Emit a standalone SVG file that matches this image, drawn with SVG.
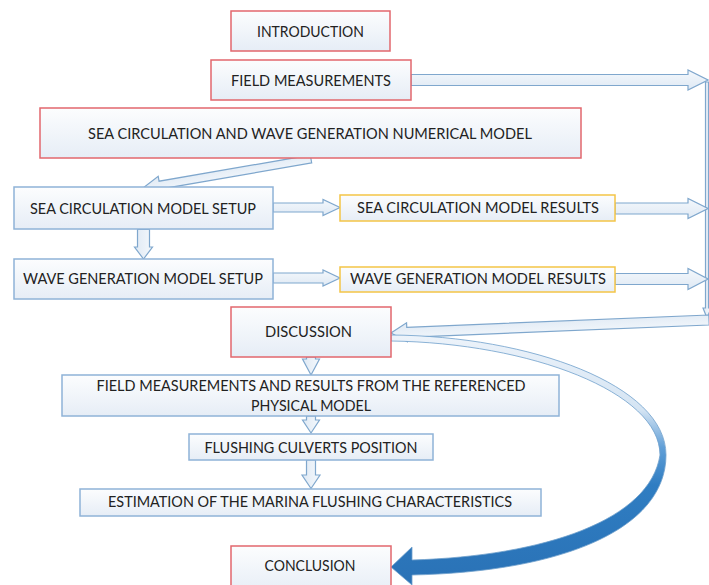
<svg xmlns="http://www.w3.org/2000/svg" width="709" height="585" viewBox="0 0 709 585">
<defs>
<linearGradient id="boxg" x1="0" y1="0" x2="0" y2="1">
<stop offset="0" stop-color="#fcfdfe"/>
<stop offset="1" stop-color="#e6edf6"/>
</linearGradient>
<linearGradient id="arrg" x1="0" y1="0" x2="0" y2="1">
<stop offset="0" stop-color="#f4f8fc"/>
<stop offset="1" stop-color="#dfe9f4"/>
</linearGradient>
<linearGradient id="curveg" gradientUnits="userSpaceOnUse" x1="0" y1="335" x2="0" y2="585">
<stop offset="0" stop-color="#edf3fa"/>
<stop offset="0.3" stop-color="#d4e4f3"/>
<stop offset="0.45" stop-color="#619fd7"/>
<stop offset="0.6" stop-color="#2f7dc2"/>
<stop offset="1" stop-color="#2a72b6"/>
</linearGradient>
<style>
.box{fill:url(#boxg);stroke-width:1.5}
.red{stroke:#e2676d}
.blue{stroke:#8fb3d7}
.gold{stroke:#f4c547}
.t{font-family:Lato,"Open Sans","Liberation Sans",sans-serif;font-size:15px;fill:#222222;text-anchor:middle}
.arr{fill:url(#arrg);stroke:#7fa7cd;stroke-width:1.2;stroke-linejoin:miter}
</style>
</defs>
<g id="connectors">
<path class="arr" transform="translate(411,80)" d="M0,-5.5 H277 V-10 L297,0 L277,10 V5.5 H0 Z"/>
<path class="arr" transform="translate(707,82) rotate(90)" d="M0,-1.5 H226 V-4 L236,0 L226,4 V1.5 H0 Z"/>
<path class="arr" transform="translate(311,159) rotate(170.2)" d="M0,-4 H153.5 V-9 L170.5,0 L153.5,9 V4 H0 Z"/>
<path class="arr" transform="translate(143.5,229.5) rotate(90)" d="M0,-6 H17.5 V-9 L29.5,0 L17.5,9 V6 H0 Z"/>
<path class="arr" transform="translate(273,207.5)" d="M0,-4.5 H50 V-8 L67,0 L50,8 V4.5 H0 Z"/>
<path class="arr" transform="translate(273,278)" d="M0,-5 H50 V-8 L67,0 L50,8 V5 H0 Z"/>
<path class="arr" transform="translate(615,208.5)" d="M0,-5.5 H73 V-10 L93,0 L73,10 V5.5 H0 Z"/>
<path class="arr" transform="translate(615,279)" d="M0,-5.5 H73 V-10.5 L93,0 L73,10.5 V5.5 H0 Z"/>
<path class="arr" transform="translate(709,320) rotate(177.66)" d="M0,-5 H302.3 V-9.5 L318.3,0 L302.3,9.5 V5 H0 Z"/>
<path class="arr" transform="translate(311,357) rotate(90)" d="M0,-4.5 H2 V-8.5 L18,0 L2,8.5 V4.5 H0 Z"/>
<path class="arr" transform="translate(311,416) rotate(90)" d="M0,-4.5 H4 V-8.5 L17,0 L4,8.5 V4.5 H0 Z"/>
<path class="arr" transform="translate(311,460) rotate(90)" d="M0,-4.5 H15 V-9 L28.5,0 L15,9 V4.5 H0 Z"/>
<path fill="url(#curveg)" stroke="#6e9fcc" stroke-width="0.8" d="M391,335 C530,336 666,385 666,455 C666,530 560,572 412,575 L412,585 L391,567 L412,547 L412,560 C545,556 650,520 660,455 C660,392 530,343 391,341 Z"/>
</g>
<g id="n-introduction"><rect class="box red" x="231" y="11" width="159" height="40"/><text class="t" x="310.5" y="37" textLength="107" lengthAdjust="spacingAndGlyphs">INTRODUCTION</text></g>
<g id="n-field"><rect class="box red" x="211" y="60" width="200" height="40"/><text class="t" x="311" y="86" textLength="160" lengthAdjust="spacingAndGlyphs">FIELD MEASUREMENTS</text></g>
<g id="n-numerical"><rect class="box red" x="40" y="108" width="541" height="50"/><text class="t" x="310" y="139" textLength="444" lengthAdjust="spacingAndGlyphs">SEA CIRCULATION AND WAVE GENERATION NUMERICAL MODEL</text></g>
<g id="n-sea-setup"><rect class="box blue" x="14" y="187" width="259" height="42"/><text class="t" x="143" y="214" textLength="226" lengthAdjust="spacingAndGlyphs">SEA CIRCULATION MODEL SETUP</text></g>
<g id="n-sea-results"><rect class="box gold" x="340" y="195" width="275" height="26"/><text class="t" x="478" y="213" textLength="242" lengthAdjust="spacingAndGlyphs">SEA CIRCULATION MODEL RESULTS</text></g>
<g id="n-wave-setup"><rect class="box blue" x="14" y="259" width="259" height="40"/><text class="t" x="143" y="284" textLength="240" lengthAdjust="spacingAndGlyphs">WAVE GENERATION MODEL SETUP</text></g>
<g id="n-wave-results"><rect class="box gold" x="340" y="267" width="275" height="25"/><text class="t" x="478" y="284" textLength="256" lengthAdjust="spacingAndGlyphs">WAVE GENERATION MODEL RESULTS</text></g>
<g id="n-discussion"><rect class="box red" x="231" y="307" width="160" height="50"/><text class="t" x="308.5" y="337" textLength="87" lengthAdjust="spacingAndGlyphs">DISCUSSION</text></g>
<g id="n-field-results"><rect class="box blue" x="62" y="375" width="497" height="41"/><text class="t" x="311" y="391" textLength="429" lengthAdjust="spacingAndGlyphs">FIELD MEASUREMENTS AND RESULTS FROM THE REFERENCED</text><text class="t" x="311" y="411" textLength="120" lengthAdjust="spacingAndGlyphs">PHYSICAL MODEL</text></g>
<g id="n-flushing"><rect class="box blue" x="189" y="434" width="244" height="26"/><text class="t" x="311" y="452.5" textLength="213" lengthAdjust="spacingAndGlyphs">FLUSHING CULVERTS POSITION</text></g>
<g id="n-estimation"><rect class="box blue" x="80" y="489" width="461" height="27"/><text class="t" x="310" y="507" textLength="404" lengthAdjust="spacingAndGlyphs">ESTIMATION OF THE MARINA FLUSHING CHARACTERISTICS</text></g>
<g id="n-conclusion"><rect class="box red" x="231" y="546" width="160" height="48"/><text class="t" x="310" y="571" textLength="91" lengthAdjust="spacingAndGlyphs">CONCLUSION</text></g>
</svg>
